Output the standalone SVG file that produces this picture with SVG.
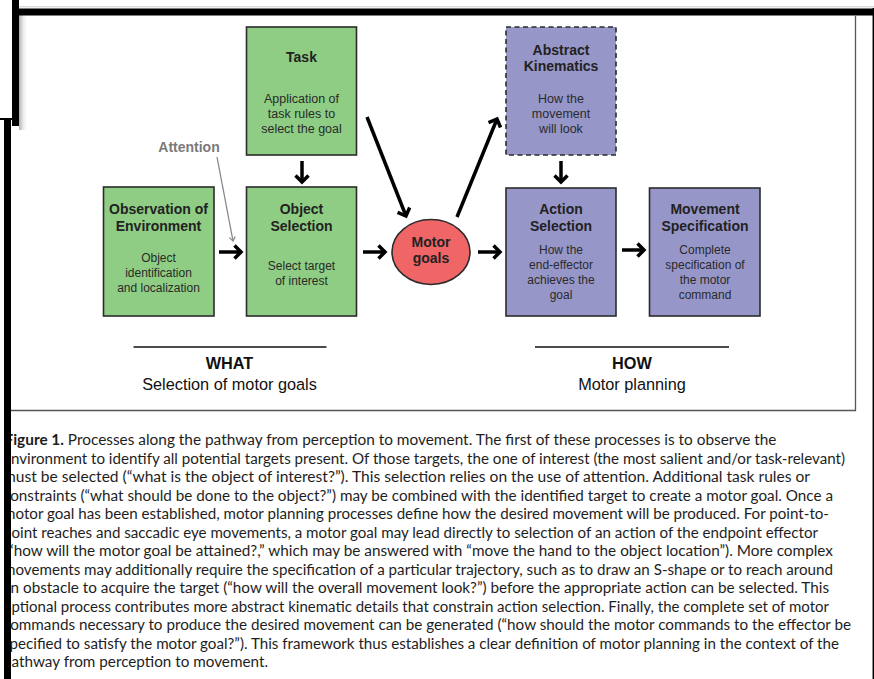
<svg xmlns="http://www.w3.org/2000/svg" width="874" height="679" viewBox="0 0 874 679">
<defs>
<style>
.green{fill:#8fcd84;stroke:#2b2b2b;stroke-width:1.6}
.purple{fill:#9796c9;stroke:#2b2b2b;stroke-width:1.6}
.dash{stroke-dasharray:5 3.5}
.t{font-family:"Liberation Sans",Arial,sans-serif;font-weight:bold;font-size:14px;fill:#222;text-anchor:middle}
.b{font-family:"Liberation Sans",Arial,sans-serif;font-size:12px;fill:#2a2a2a;text-anchor:middle}
.bs{font-family:"Liberation Sans",Arial,sans-serif;font-size:12.5px;fill:#2a2a2a;text-anchor:middle}
.arr{stroke:#000;stroke-width:3.5;fill:none;marker-end:url(#chev)}
.cap{font-family:"Lato","Open Sans",sans-serif;font-size:14.5px;fill:#1e1e1e}
.lbl{font-family:"Liberation Sans",Arial,sans-serif;font-size:16.3px;fill:#111;text-anchor:middle}
</style>
<marker id="chev" viewBox="-10 -10 20 20" refX="0" refY="0" markerWidth="20" markerHeight="20" markerUnits="userSpaceOnUse" orient="auto" overflow="visible">
<path d="M-6.5,-6.5 L0,0 L-6.5,6.5" fill="none" stroke="#000" stroke-width="3.5"/>
</marker>
<marker id="chevg" viewBox="-6 -6 12 12" refX="0" refY="0" markerWidth="12" markerHeight="12" markerUnits="userSpaceOnUse" orient="auto" overflow="visible">
<path d="M-4,-3 L0,0 L-4,3" fill="none" stroke="#888" stroke-width="1.3"/>
</marker>
<linearGradient id="shadow" x1="0" y1="0" x2="1" y2="0">
<stop offset="0" stop-color="#888" stop-opacity="0.7"/>
<stop offset="1" stop-color="#fff" stop-opacity="0"/>
</linearGradient>
</defs>
<rect x="0" y="0" width="874" height="679" fill="#fff"/>

<!-- diagram frame -->
<path d="M855.5,16 V410.5 H11" fill="none" stroke="#555" stroke-width="1.3"/>

<!-- nodes -->
<g id="task">
<rect class="green" x="246.5" y="27" width="110" height="128"/>
<text class="t" x="301.5" y="62">Task</text>
<text class="bs" x="301.5" y="103">Application of</text>
<text class="bs" x="301.5" y="118">task rules to</text>
<text class="bs" x="301.5" y="133">select the goal</text>
</g>
<g id="abstract-kinematics">
<rect class="purple dash" x="506" y="27" width="110" height="128"/>
<text class="t" x="561" y="55">Abstract</text>
<text class="t" x="561" y="71">Kinematics</text>
<text class="bs" x="561" y="103">How the</text>
<text class="bs" x="561" y="118">movement</text>
<text class="bs" x="561" y="133">will look</text>
</g>
<g id="observation">
<rect class="green" x="103.5" y="187" width="110.5" height="129"/>
<text class="t" x="158.5" y="214">Observation of</text>
<text class="t" x="158.5" y="231">Environment</text>
<text class="b" x="158.5" y="262">Object</text>
<text class="b" x="158.5" y="277">identification</text>
<text class="b" x="158.5" y="292">and localization</text>
</g>
<g id="object-selection">
<rect class="green" x="246.5" y="187" width="110" height="129"/>
<text class="t" x="301.5" y="214">Object</text>
<text class="t" x="301.5" y="231">Selection</text>
<text class="b" x="301.5" y="270">Select target</text>
<text class="b" x="301.5" y="285">of interest</text>
</g>
<g id="motor-goals">
<ellipse cx="431" cy="252" rx="39" ry="32.5" fill="#f06565" stroke="#2b2b2b" stroke-width="1.6"/>
<text class="t" x="431" y="247">Motor</text>
<text class="t" x="431" y="263">goals</text>
</g>
<g id="action-selection">
<rect class="purple" x="506" y="188" width="110" height="128"/>
<text class="t" x="561" y="214">Action</text>
<text class="t" x="561" y="231">Selection</text>
<text class="b" x="561" y="254">How the</text>
<text class="b" x="561" y="269">end-effector</text>
<text class="b" x="561" y="284">achieves the</text>
<text class="b" x="561" y="299">goal</text>
</g>
<g id="movement-specification">
<rect class="purple" x="649.5" y="188" width="110.5" height="128"/>
<text class="t" x="705" y="214">Movement</text>
<text class="t" x="705" y="231">Specification</text>
<text class="b" x="705" y="254">Complete</text>
<text class="b" x="705" y="269">specification of</text>
<text class="b" x="705" y="284">the motor</text>
<text class="b" x="705" y="299">command</text>
</g>
<g id="attention-label">
<text class="t" x="189" y="152" style="fill:#7a7a7a">Attention</text>
</g>

<!-- connectors -->
<g id="connectors">
<line class="arr" x1="219" y1="252" x2="241" y2="252"/>
<line class="arr" x1="363" y1="252" x2="385" y2="252"/>
<line class="arr" x1="478" y1="252" x2="500" y2="252"/>
<line class="arr" x1="622" y1="250" x2="644" y2="250"/>
<line class="arr" x1="302" y1="161" x2="302" y2="182"/>
<line class="arr" x1="561" y1="161" x2="561" y2="182"/>
<line class="arr" x1="367" y1="117" x2="406" y2="216"/>
<line class="arr" x1="457" y1="217" x2="497" y2="119"/>
<line x1="217" y1="157" x2="233" y2="241" stroke="#888" stroke-width="1.3" marker-end="url(#chevg)"/>
</g>

<!-- WHAT / HOW -->
<g id="what">
<line x1="133.5" y1="347" x2="326.5" y2="347" stroke="#111" stroke-width="1.6"/>
<text class="lbl" x="229.5" y="369" font-weight="bold">WHAT</text>
<text class="lbl" x="229.5" y="390">Selection of motor goals</text>
</g>
<g id="how">
<line x1="535" y1="347" x2="729" y2="347" stroke="#111" stroke-width="1.6"/>
<text class="lbl" x="632" y="369" font-weight="bold">HOW</text>
<text class="lbl" x="632" y="390">Motor planning</text>
</g>

<!-- caption -->
<g id="caption" class="cap">
<text x="4.5" y="445" textLength="772" lengthAdjust="spacingAndGlyphs"><tspan font-weight="bold">Figure 1.</tspan> Processes along the pathway from perception to movement. The first of these processes is to observe the</text>
<text x="3" y="463.5" textLength="842" lengthAdjust="spacingAndGlyphs">environment to identify all potential targets present. Of those targets, the one of interest (the most salient and/or task-relevant)</text>
<text x="3" y="482" textLength="807" lengthAdjust="spacingAndGlyphs">must be selected (“what is the object of interest?”). This selection relies on the use of attention. Additional task rules or</text>
<text x="3" y="500.5" textLength="830" lengthAdjust="spacingAndGlyphs">constraints (“what should be done to the object?”) may be combined with the identified target to create a motor goal. Once a</text>
<text x="3" y="519" textLength="826" lengthAdjust="spacingAndGlyphs">motor goal has been established, motor planning processes define how the desired movement will be produced. For point-to-</text>
<text x="3" y="537.5" textLength="815" lengthAdjust="spacingAndGlyphs">point reaches and saccadic eye movements, a motor goal may lead directly to selection of an action of the endpoint effector</text>
<text x="4" y="556" textLength="829" lengthAdjust="spacingAndGlyphs">(“how will the motor goal be attained?,” which may be answered with “move the hand to the object location”). More complex</text>
<text x="3" y="574.5" textLength="830" lengthAdjust="spacingAndGlyphs">movements may additionally require the specification of a particular trajectory, such as to draw an S-shape or to reach around</text>
<text x="3" y="593" textLength="826" lengthAdjust="spacingAndGlyphs">an obstacle to acquire the target (“how will the overall movement look?”) before the appropriate action can be selected. This</text>
<text x="3" y="611.5" textLength="826" lengthAdjust="spacingAndGlyphs">optional process contributes more abstract kinematic details that constrain action selection. Finally, the complete set of motor</text>
<text x="3" y="630" textLength="848" lengthAdjust="spacingAndGlyphs">commands necessary to produce the desired movement can be generated (“how should the motor commands to the effector be</text>
<text x="3" y="648.5" textLength="836" lengthAdjust="spacingAndGlyphs">specified to satisfy the motor goal?”). This framework thus establishes a clear definition of motor planning in the context of the</text>
<text x="3" y="667" textLength="265" lengthAdjust="spacingAndGlyphs">pathway from perception to movement.</text>
</g>

<!-- screen frame bars -->
<rect x="0" y="0" width="4" height="679" fill="#fff"/>
<rect x="19" y="15" width="9" height="115" fill="url(#shadow)"/>
<line x1="12" y1="6.8" x2="874" y2="6.8" stroke="#ccc" stroke-width="1"/>
<rect x="12" y="8.5" width="862" height="7" fill="#000"/>
<rect x="12" y="0" width="7" height="126" fill="#000"/>
<rect x="0" y="118" width="19" height="2" fill="#000"/>
<rect x="4" y="120" width="7" height="559" fill="#000"/>
<line x1="873.3" y1="8" x2="873.3" y2="679" stroke="#000" stroke-width="1.5"/>
</svg>
